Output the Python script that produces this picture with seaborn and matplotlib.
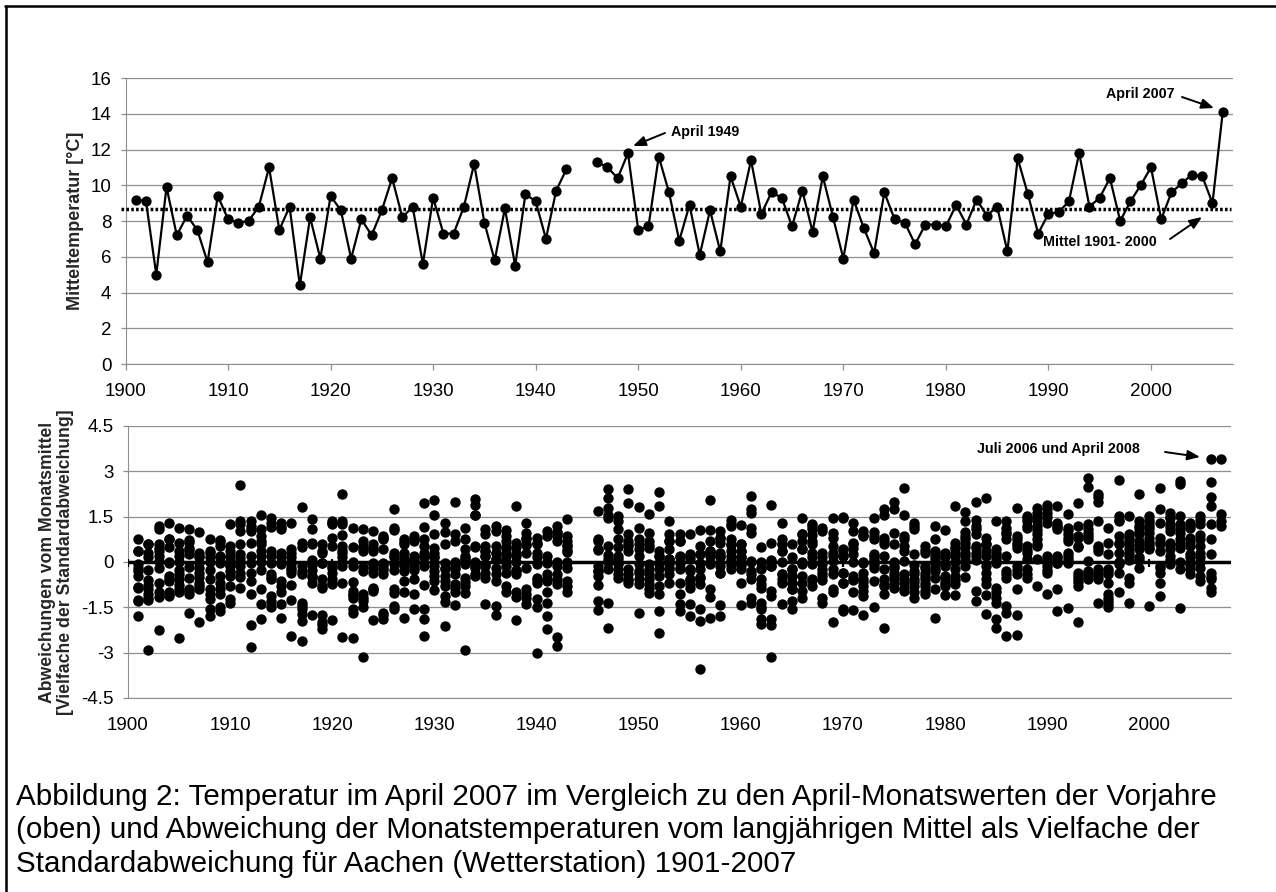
import pandas as pd
import matplotlib.pyplot as plt
from matplotlib.lines import Line2D
import seaborn as sns

# April mean temperature, Aachen
april_years_a = list(range(1901, 1944))
april_temp_a = [9.2, 9.1, 5.0, 9.9, 7.2, 8.3, 7.5, 5.7, 9.4, 8.1,
                7.9, 8.0, 8.8, 11.0, 7.5, 8.8, 4.4, 8.2, 5.9, 9.4,
                8.6, 5.9, 8.1, 7.2, 8.6, 10.4, 8.2, 8.8, 5.6, 9.3,
                7.3, 7.3, 8.8, 11.2, 7.9, 5.8, 8.7, 5.5, 9.5, 9.1,
                7.0, 9.7, 10.9]
april_years_b = list(range(1946, 2008))
april_temp_b = [11.3, 11.0, 10.4, 11.8, 7.5, 7.7, 11.6, 9.6, 6.9, 8.9,
                6.1, 8.6, 6.3, 10.5, 8.8, 11.4, 8.4, 9.6, 9.3, 7.7,
                9.7, 7.4, 10.5, 8.2, 5.9, 9.2, 7.6, 6.2, 9.6, 8.1,
                7.9, 6.7, 7.8, 7.8, 7.7, 8.9, 7.8, 9.2, 8.3, 8.8,
                6.3, 11.5, 9.5, 7.3, 8.4, 8.5, 9.1, 11.8, 8.8, 9.3,
                10.4, 8.0, 9.1, 10.0, 11.0, 8.1, 9.6, 10.1, 10.6, 10.5,
                9.0, 14.1]
mean_temp = 8.65

# Monthly deviations in standard deviations, one row per year
dev_years = list(range(1901, 1944)) + list(range(1946, 2008))
dev_values = [
    [0.75, 0.36, 0.35, -0.05, -0.2, -0.3, -0.45, -0.83, -0.85, -1.27, -1.3, -1.8],
    [0.6, 0.6, 0.3, 0.15, -0.28, -0.6, -0.75, -0.9, -1.05, -1.2, -1.25, -2.9],
    [1.2, 1.1, 0.58, 0.45, 0.36, 0.2, 0.03, -0.2, -0.7, -1.0, -1.15, -2.25],
    [1.28, 0.77, 0.75, 0.5, 0.0, -0.02, -0.47, -0.55, -0.63, -1.0, -1.05, -1.12],
    [1.12, 0.63, 0.36, 0.2, 0.0, -0.25, -0.4, -0.57, -0.75, -0.9, -1.0, -2.5],
    [1.1, 0.72, 0.65, 0.47, 0.4, 0.25, -0.18, -0.52, -0.9, -0.95, -1.07, -1.68],
    [1.0, 0.3, 0.2, 0.15, -0.02, -0.2, -0.35, -0.5, -0.68, -0.8, -0.9, -2.0],
    [0.77, 0.36, 0.3, 0.15, 0.0, -0.25, -0.57, -0.9, -1.07, -1.23, -1.57, -1.8],
    [0.72, 0.65, 0.53, 0.2, 0.15, -0.02, -0.46, -0.68, -0.9, -1.07, -1.5, -1.62],
    [1.25, 0.53, 0.36, 0.2, 0.03, -0.1, -0.13, -0.3, -0.46, -0.8, -1.23, -1.35],
    [2.55, 1.35, 1.25, 1.02, 0.58, 0.25, 0.14, -0.13, -0.35, -0.5, -0.85, 0.0],
    [1.35, 1.2, 1.1, 1.02, 0.63, 0.2, -0.02, -0.35, -0.63, -1.07, -2.1, -2.8],
    [1.55, 1.08, 0.85, 0.7, 0.58, 0.36, 0.2, 0.0, -0.25, -0.9, -1.38, -1.9],
    [1.45, 1.3, 1.17, 0.36, 0.2, -0.02, -0.4, -0.5, -0.57, -1.12, -1.3, -1.48],
    [1.3, 1.15, 1.08, 0.3, 0.15, 0.0, -0.08, -0.63, -0.8, -1.0, -1.4, -1.84],
    [1.3, 0.42, 0.3, 0.15, 0.0, -0.08, -0.2, -0.25, -0.35, -0.76, -1.27, -2.45],
    [1.83, 0.64, 0.5, -0.13, -0.3, -0.4, -1.35, -1.45, -1.57, -1.73, -1.95, -2.6],
    [1.43, 1.08, 0.64, 0.6, 0.05, -0.02, -0.1, -0.25, -0.46, -0.5, -0.68, -1.75],
    [0.6, 0.36, 0.3, -0.02, -0.02, -0.57, -0.8, -0.85, -1.77, -2.0, -2.1, -2.23],
    [1.35, 1.3, 1.25, 0.8, 0.53, -0.13, -0.2, -0.35, -0.57, -0.7, -0.74, -1.92],
    [2.24, 1.35, 1.25, 0.9, 0.53, 0.4, 0.3, 0.15, 0.0, -0.13, -0.7, -2.47],
    [1.13, 0.5, 0.0, -0.13, -0.65, -0.96, -1.05, -1.1, -1.18, -1.57, -1.7, -2.53],
    [1.1, 0.7, 0.53, 0.45, 0.36, -0.15, -0.3, -1.07, -1.2, -1.3, -1.5, -3.15],
    [1.02, 0.58, 0.45, 0.36, -0.02, -0.05, -0.2, -0.35, -0.85, -0.9, -0.96, -1.92],
    [0.85, 0.8, 0.75, 0.42, -0.02, -0.1, -0.2, -0.25, -0.4, -1.68, -1.75, -1.87],
    [1.74, 1.13, 1.05, 0.3, 0.2, 0.15, -0.08, -0.25, -0.9, -1.03, -1.45, -1.57],
    [0.75, 0.65, 0.58, 0.3, 0.1, 0.08, -0.1, -0.13, -0.3, -0.63, -1.0, -1.84],
    [0.85, 0.75, 0.7, 0.2, 0.1, -0.02, -0.2, -0.25, -0.57, -1.05, -1.55, 0.0],
    [1.96, 1.17, 0.75, 0.53, 0.3, 0.2, 0.15, -0.13, -0.77, -1.57, -1.87, -2.45],
    [2.05, 1.54, 0.94, 0.47, 0.3, 0.15, -0.13, -0.3, -0.46, -0.63, -0.93, 0.15],
    [1.28, 1.0, 0.58, -0.02, -0.2, -0.24, -0.46, -0.63, -0.8, -1.12, -1.32, -2.12],
    [2.0, 0.92, 0.7, 0.0, -0.08, -0.15, -0.24, -0.4, -0.74, -0.85, -1.0, -1.43],
    [1.12, 0.77, 0.42, 0.2, 0.14, 0.05, -0.08, -0.52, -0.65, -0.8, -1.03, -2.9],
    [2.07, 1.9, 1.57, 1.55, 0.53, 0.5, 0.0, -0.02, -0.13, -0.2, -0.4, -0.46],
    [1.08, 0.92, 0.53, 0.36, 0.2, 0.2, 0.35, -0.1, -0.13, -0.35, -0.52, -1.4],
    [1.2, 1.02, 0.53, 0.3, 0.3, 0.1, 0.09, -0.19, -0.4, -0.63, -1.45, -1.75],
    [1.05, 0.85, 0.7, 0.5, 0.42, 0.25, 0.2, 0.03, -0.13, -0.35, -0.8, -1.0],
    [1.85, 0.64, 0.5, 0.3, 0.2, 0.0, -0.25, -0.3, -0.4, -1.0, -1.15, -1.92],
    [1.28, 0.97, 0.8, 0.75, 0.58, 0.55, 0.3, -0.19, -0.9, -1.07, -1.2, -1.4],
    [0.8, 0.64, 0.6, 0.3, 0.15, -0.08, -0.52, -0.6, -0.68, -1.23, -1.5, -3.0],
    [1.02, 0.86, 0.2, 0.0, -0.02, -0.4, -0.55, -0.63, -1.0, -1.37, -1.8, -2.23],
    [1.2, 1.0, 0.97, 0.85, 0.7, -0.13, -0.4, -0.57, -0.74, -2.48, -2.78, 0.0],
    [1.43, 0.86, 0.7, 0.55, 0.53, 0.4, 0.33, -0.2, -0.63, -0.8, -1.0, 0.0],
    [1.68, 0.75, 0.7, 0.42, 0.4, -0.13, -0.3, -0.3, -0.46, -0.77, -1.29, -1.59],
    [2.43, 2.13, 1.8, 1.57, 1.47, 0.53, 0.22, 0.0, -0.24, -1.37, -2.17, 0.1],
    [1.52, 1.35, 1.1, 0.75, 0.5, 0.2, 0.1, -0.02, -0.05, -0.24, -0.4, -0.52],
    [2.4, 1.96, 0.92, 0.7, 0.6, 0.53, 0.36, -0.24, -0.4, -0.57, -0.6, -0.68],
    [1.83, 1.13, 0.75, 0.58, 0.42, 0.2, -0.08, -0.3, -0.35, -0.57, -0.74, -1.68],
    [1.58, 0.97, 0.7, 0.55, 0.47, -0.08, -0.24, -0.4, -0.57, -0.74, -0.9, -1.03],
    [2.32, 1.85, 0.36, 0.2, 0.2, -0.02, -0.24, -0.46, -0.8, -1.07, -1.62, -2.36],
    [1.35, 0.92, 0.7, 0.7, 0.42, 0.1, 0.09, -0.08, -0.2, -0.24, -0.4, -0.7],
    [0.92, 0.7, 0.7, 0.2, 0.15, -0.02, -0.2, -0.24, -0.68, -1.05, -1.4, -1.62],
    [0.92, 0.25, 0.2, 0.09, -0.24, -0.3, -0.57, -0.6, -0.74, -0.85, -1.4, -1.8],
    [1.05, 0.53, 0.25, 0.25, -0.02, -0.24, -0.5, -0.52, -0.74, -1.57, -1.95, -3.53],
    [2.04, 1.05, 0.7, 0.36, 0.36, 0.25, 0.2, 0.0, -0.08, -0.88, -1.16, -1.86],
    [1.02, 0.8, 0.8, 0.64, 0.3, 0.2, 0.15, -0.13, -0.35, -0.35, -1.43, -1.8],
    [1.4, 1.25, 1.2, 0.75, 0.6, 0.55, 0.35, 0.2, 0.05, 0.0, -0.1, -0.24],
    [1.22, 0.58, 0.58, 0.36, 0.36, 0.15, 0.15, -0.08, -0.1, -0.24, -0.68, -1.43],
    [2.2, 1.74, 1.63, 1.13, 0.95, 0.03, 0.0, -0.3, -0.4, -0.57, -1.2, -1.37],
    [0.5, 0.0, -0.2, -0.24, -0.57, -0.74, -0.85, -1.35, -1.57, -1.5, -1.9, -2.05],
    [1.9, 0.62, 0.05, 0.03, 0.0, -0.12, -0.13, -0.96, -1.12, -1.9, -2.1, -3.15],
    [1.28, 0.75, 0.58, 0.58, 0.36, 0.36, -0.4, -0.57, -0.4, -0.68, -1.4, 0.0],
    [0.58, 0.15, -0.24, -0.24, -0.46, -0.46, -0.68, -0.68, -0.9, -0.9, -1.29, -1.57],
    [1.47, 0.92, 0.92, 0.7, 0.42, 0.42, -0.08, -0.46, -0.68, -0.96, -1.18, 0.0],
    [1.25, 1.2, 1.08, 0.9, 0.7, 0.58, 0.3, 0.15, -0.08, -0.57, -0.6, -0.8],
    [1.13, 1.02, 0.3, 0.15, 0.0, -0.08, -0.24, -0.35, -0.46, -0.6, -1.18, -1.35],
    [1.47, 0.97, 0.8, 0.53, 0.3, 0.2, 0.03, -0.24, -0.4, -0.9, -1.0, -2.0],
    [1.5, 1.45, 0.42, 0.4, 0.2, 0.2, -0.35, -0.35, -0.68, -0.68, -1.55, -1.62],
    [1.28, 1.02, 0.64, 0.6, 0.45, 0.25, 0.0, -0.57, -1.0, -1.6, -0.6, -0.45],
    [1.02, 0.9, 0.85, 0.0, -0.02, -0.35, -0.57, -0.65, -0.8, -0.96, -1.12, -1.75],
    [1.47, 1.0, 0.85, 0.75, 0.25, 0.2, 0.1, 0.0, -0.1, -0.19, -0.63, -1.5],
    [1.74, 1.57, 0.8, 0.7, 0.58, 0.2, -0.24, -0.57, -0.75, -0.8, -1.07, -2.2],
    [2.0, 1.76, 0.97, 0.6, 0.0, -0.13, -0.2, -0.35, -0.45, -0.57, -0.7, -0.85],
    [2.46, 1.57, 0.85, 0.75, 0.53, 0.36, 0.03, -0.4, -0.55, -0.68, -0.85, -0.96],
    [1.3, 1.2, 1.08, 0.27, -0.1, -0.3, -0.4, -0.57, -0.65, -0.8, -1.0, -1.18],
    [0.53, 0.4, 0.3, -0.13, -0.2, -0.35, -0.45, -0.57, -0.7, -0.8, -0.95, -1.07],
    [1.2, 0.77, 0.36, 0.3, 0.2, 0.1, -0.02, -0.24, -0.3, -0.52, -0.9, -1.86],
    [1.05, 0.3, 0.2, 0.15, -0.1, -0.13, -0.45, -0.52, -0.65, -0.74, -0.8, -1.09],
    [1.85, 0.64, 0.5, 0.42, 0.3, 0.2, 0.0, -0.24, -0.46, -0.6, -0.74, -1.1],
    [1.65, 1.35, 1.0, 0.85, 0.75, 0.64, 0.5, 0.3, 0.2, 0.08, -0.13, -0.5],
    [2.0, 1.4, 1.2, 1.1, 0.92, 0.53, 0.45, 0.3, 0.2, 0.08, -0.96, -1.29],
    [2.13, 0.8, 0.6, 0.58, 0.36, 0.2, -0.13, -0.35, -0.57, -0.74, -1.1, -1.73],
    [1.35, 0.42, 0.3, 0.2, 0.1, -0.02, -0.85, -1.0, -1.18, -1.35, -1.9, -2.17],
    [1.35, 1.13, 1.0, 0.92, 0.75, 0.2, -0.3, -0.4, -0.52, -1.45, -1.68, -2.45],
    [1.8, 0.85, 0.75, 0.64, 0.55, 0.47, -0.13, -0.25, -0.4, -0.9, -1.76, -2.43],
    [1.52, 1.45, 1.35, 1.2, 1.13, 0.53, 0.4, 0.3, 0.09, -0.24, -0.4, -0.52],
    [1.8, 1.63, 1.5, 1.4, 1.2, 1.05, 0.92, 0.75, 0.6, 0.53, 0.09, -0.8],
    [1.9, 1.75, 1.63, 1.5, 1.3, 0.2, 0.09, 0.0, -0.13, -0.25, -0.35, -1.07],
    [1.85, 1.3, 1.2, 1.15, 1.08, 0.2, 0.15, 0.05, -0.02, -0.02, -0.9, -1.62],
    [1.6, 1.13, 1.05, 0.92, 0.8, 0.7, 0.3, 0.2, 0.09, 0.0, -0.02, -1.53],
    [1.96, 1.2, 0.85, 0.8, 0.53, 0.5, -0.35, -0.45, -0.57, -0.65, -0.8, -2.0],
    [2.78, 2.48, 1.25, 1.1, 0.97, 0.85, 0.75, 0.03, -0.3, -0.35, -0.45, -0.57],
    [2.24, 2.15, 2.0, 1.35, 0.53, 0.45, 0.36, -0.24, -0.35, -0.46, -0.55, -1.35],
    [1.12, 0.64, 0.25, -0.24, -0.3, -0.4, -0.68, -1.07, -1.2, -1.29, -1.4, -1.5],
    [2.7, 1.52, 1.4, 1.35, 0.85, 0.64, 0.6, 0.3, 0.0, -0.35, -0.05, -1.0],
    [1.52, 0.92, 0.8, 0.7, 0.55, 0.42, 0.3, 0.2, 0.05, -0.52, -0.68, -1.35],
    [2.26, 1.35, 1.2, 1.13, 1.0, 0.92, 0.7, 0.55, 0.42, 0.15, 0.05, -0.19],
    [1.52, 1.4, 1.3, 1.2, 1.08, 0.95, 0.8, 0.65, 0.58, 0.5, 0.42, -1.45],
    [2.46, 1.74, 1.3, 0.8, 0.65, 0.58, 0.36, -0.13, -0.2, -0.35, -0.68, -1.12],
    [1.63, 1.5, 1.47, 1.25, 1.15, 1.03, 0.64, 0.55, 0.42, 0.2, 0.05, -0.08],
    [2.68, 2.57, 1.52, 1.25, 1.1, 0.97, 0.75, 0.58, 0.45, 0.0, -0.24, -1.53],
    [1.3, 1.2, 1.14, 0.8, 0.65, 0.53, 0.25, 0.15, 0.0, -0.1, -0.24, -0.4],
    [1.52, 1.4, 1.25, 0.9, 0.75, 0.53, 0.3, 0.15, 0.0, -0.19, -0.46, -0.63],
    [3.42, 2.65, 2.16, 1.85, 1.25, 0.75, 0.25, -0.35, -0.5, -0.57, -0.85, -1.0],
    [3.4, 1.58, 1.35, 1.2],
]

tick_years = list(range(1900, 2001, 10))
temp_ticks = list(range(0, 17, 2))
dev_ticks = [-4.5, -3, -1.5, 0, 1.5, 3, 4.5]
dev_tick_labels = ['-4.5', '-3', '-1.5', '0', '1.5', '3', '4.5']

caption = [
    'Abbildung 2: Temperatur im April 2007 im Vergleich zu den April-Monatswerten der Vorjahre',
    '(oben) und Abweichung der Monatstemperaturen vom langjährigen Mittel als Vielfache der',
    'Standardabweichung für Aachen (Wetterstation) 1901-2007',
]

sns.set_style('white')
plt.rcParams['font.family'] = ['Liberation Sans', 'DejaVu Sans']

W, H = 1276, 892
GRID = '#8f8f8f'


def box(left, top, right, bottom):
    return [left / W, 1 - bottom / H, (right - left) / W, (bottom - top) / H]


def fx(x, y):
    return (x / W, 1 - y / H)


fig = plt.figure(figsize=(W / 100, H / 100), dpi=100, facecolor='white')
ax_top = fig.add_axes(box(125.5, 78, 1233, 364))
ax_bot = fig.add_axes(box(128, 426, 1231, 698))

# frame round the figure (left and top only)
fig.add_artist(Line2D([5.5 / W, 5.5 / W], [0, 1 - 5.5 / H], color='black', lw=1.8))
fig.add_artist(Line2D([4.5 / W, 1], [1 - 5.5 / H, 1 - 5.5 / H], color='black', lw=1.8))

# top panel
for yrs, temps in [(april_years_a, april_temp_a), (april_years_b, april_temp_b)]:
    sns.lineplot(x=yrs, y=temps, ax=ax_top, color='black', lw=1.6, marker='o',
                 markersize=7.4, markeredgewidth=0, estimator=None, errorbar=None,
                 zorder=4)
ax_top.axhline(mean_temp, xmin=-0.004, xmax=0.9985, color='black', lw=2.5,
               linestyle=(0, (0.75, 0.65)), clip_on=False, zorder=3)
ax_top.set_ylim(0, 16)
ax_top.set_yticks(temp_ticks)
ax_top.set_ylabel('Mitteltemperatur [°C]', fontsize=13, fontweight='bold')
ax_top.yaxis.set_label_coords(-0.0375, 0.5)

# bottom panel
dev_df = pd.DataFrame({
    'year': [yr for yr, vals in zip(dev_years, dev_values) for _ in vals],
    'dev': [v for vals in dev_values for v in vals],
})
sns.scatterplot(data=dev_df, x='year', y='dev', ax=ax_bot, color='black', s=56,
                linewidth=0, zorder=4, clip_on=False)
ax_bot.axhline(0, color='black', lw=2.5, zorder=3)
ax_bot.vlines(tick_years, -0.17, 0.1, color='black', lw=1.6, zorder=3)
ax_bot.set_ylim(-4.5, 4.5)
ax_bot.set_yticks(dev_ticks)
ax_bot.set_yticklabels(dev_tick_labels)
ax_bot.set_xlabel('')
ax_bot.set_ylabel('Abweichungen vom Monatsmittel\n[Vielfache der Standardabweichung]',
                  fontsize=12.7, fontweight='bold', linespacing=1.1)
ax_bot.yaxis.set_label_coords(-0.049, 0.5)

for ax in (ax_top, ax_bot):
    ax.set_xlim(1900, 2008)
    ax.set_xticks(tick_years)
    ax.grid(True, axis='y', color=GRID, lw=0.9)
    ax.set_axisbelow(True)
    ax.set_facecolor('none')
    ax.spines['top'].set_visible(False)
    ax.spines['right'].set_visible(False)
    ax.spines['left'].set_color(GRID)
    ax.spines['bottom'].set_color(GRID)
    ax.tick_params(axis='both', labelsize=13.5, colors='black', labelcolor='black')
    ax.tick_params(axis='y', left=True, length=3.6, width=0.9, color=GRID, pad=6.5)

ax_top.tick_params(axis='x', bottom=True, length=4, width=0.9, color=GRID, pad=9.5)
ax_bot.tick_params(axis='x', bottom=False, pad=10)

# notes with arrows
arrow = dict(arrowstyle='-|>,head_length=0.75,head_width=0.3', color='black', lw=1.4,
             shrinkA=0, shrinkB=0)
notes = [
    ('April 1949', (671, 132), 'left', (665, 133), (633, 146)),
    ('April 2007', (1175, 94), 'right', (1182, 97), (1214, 108)),
    ('Mittel 1901- 2000', (1157, 242), 'right', (1170, 239), (1202, 217)),
    ('Juli 2006 und April 2008', (1140, 449), 'right', (1165, 452), (1200, 457)),
]
for label, pos, align, start, end in notes:
    fx_pos = fx(*pos)
    fig.text(fx_pos[0], fx_pos[1], label, fontsize=10.3, fontweight='bold', ha=align,
             va='center', color='black')
    ax_top.annotate('', xy=fx(*end), xytext=fx(*start), xycoords='figure fraction',
                    textcoords='figure fraction', arrowprops=arrow, annotation_clip=False)

# caption
for line, base in zip(caption, [805, 838.5, 872]):
    pos = fx(16, base)
    fig.text(pos[0], pos[1], line, fontsize=21.3, ha='left', va='baseline', color='black')

fig.savefig('out.png', dpi=100, facecolor='white')
plt.close(fig)
